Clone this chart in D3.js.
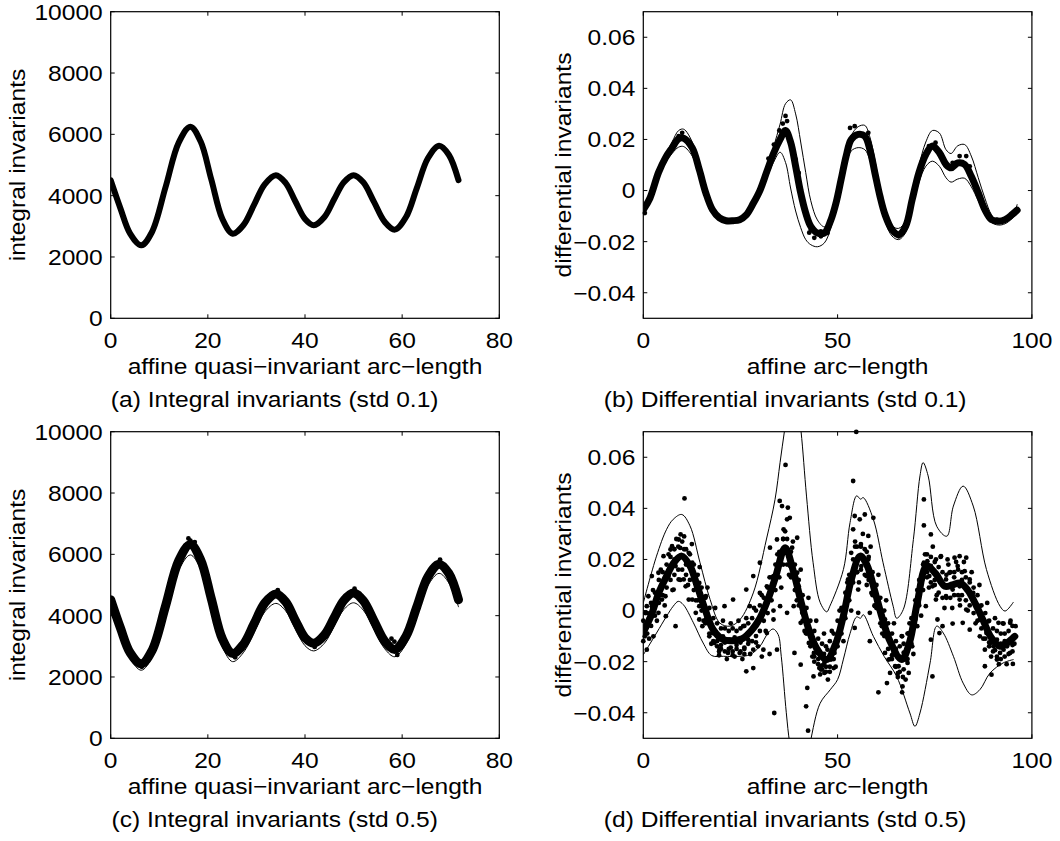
<!DOCTYPE html>
<html>
<head>
<meta charset="utf-8">
<script src="https://cdn.jsdelivr.net/npm/d3@7"></script>
<style>
body { margin: 0; background: #fff; }
svg text { font-family: "Liberation Sans", Arial, Helvetica, sans-serif; font-size: 22px; fill: #000; }
</style>
</head>
<body>
<svg id="fig" width="1060" height="841"></svg>
<script>
"use strict";

// ---- data ----

// integral invariants, std 0.1 (a) and std 0.5 (c)
var aX = [0, 2, 4, 6.3, 8.5, 11.3, 14, 16.4, 18.5, 20.7, 23, 25.1, 27.3, 29.5, 31.7, 34, 36, 38, 40, 41.8,
          44, 46, 48, 50, 52, 54.2, 56.4, 58.5, 60.8, 63, 65.3, 67.6, 69.6, 71.6];
var aMean = [4500, 3585, 2762, 2380, 2815, 4282, 5730, 6250, 5773, 4535, 3236, 2760, 3034, 3697, 4370, 4668, 4418, 3817, 3237, 3032,
             3305, 3881, 4438, 4668, 4435, 3797, 3147, 2892, 3302, 4238, 5218, 5628, 5335, 4504];
var cMean = [4520, 3600, 2790, 2430, 2860, 4320, 5790, 6320, 5830, 4560, 3240, 2770, 3060, 3730, 4410, 4710, 4460, 3850, 3280, 3100,
             3370, 3930, 4500, 4740, 4490, 3830, 3170, 2900, 3330, 4280, 5270, 5680, 5380, 4520];
var cLower = [4350, 3420, 2600, 2220, 2640, 4070, 5480, 5980, 5520, 4300, 2980, 2500, 2790, 3440, 4120, 4400, 4160, 3570, 3020, 2850,
              3100, 3650, 4200, 4420, 4180, 3550, 2920, 2660, 3080, 4020, 4980, 5380, 5070, 4290];
var cDots = [[16, 6520], [16.4, 6450], [17.3, 6400], [15.4, 6280], [57.8, 3250], [58.4, 3150], [50.2, 4880], [51.2, 4720],
             [34.4, 4830], [67.8, 5830], [25.6, 2640], [6.4, 2330], [1, 4200], [42, 2980], [59, 2720]];

// differential invariants, std 0.1 (b)
var bX = [0, 1.7, 3.9, 5.7, 7.4, 9.1, 10.4, 12.6, 14.4, 16.1, 17.8, 19.6, 21.3, 23.1, 24.8, 26.5, 28.3, 30, 31.8, 33.5,
          35.2, 36.6, 37.9, 39.2, 40.5, 41.8, 43.1, 44.8, 46.6, 48.3, 49.6, 50.9, 52.2, 53.5, 55.3, 57, 58.3, 59.6, 60.9, 62.2,
          64, 65.7, 67.5, 69.2, 70.9, 72.7, 74.4, 76.2, 77.9, 79.2, 80.9, 82.7, 84.4, 86.2, 87.9, 89.6, 91.4, 93.1, 94.9, 96.2];
var bMean = [-0.0075, -0.003, 0.007, 0.0128, 0.0167, 0.0203, 0.0205, 0.0167, 0.0082, -0.001, -0.0075, -0.0107, -0.0118, -0.0118, -0.0114, -0.0095, -0.005, 0, 0.0075, 0.0145,
             0.02, 0.0235, 0.019, 0.0095, -0.0009, -0.0088, -0.014, -0.0166, -0.0166, -0.0114, -0.0048, 0.0043, 0.0135, 0.02, 0.022, 0.0213, 0.0161, 0.0069, -0.0022, -0.0094,
             -0.0153, -0.0173, -0.014, -0.0035, 0.0069, 0.0141, 0.0174, 0.0148, 0.0102, 0.0089, 0.0108, 0.0102, 0.0056, -0.0009, -0.0075, -0.0114, -0.012, -0.0114, -0.0094, -0.0077];
var bUpper = [-0.006, -0.002, 0.008, 0.014, 0.019, 0.0235, 0.024, 0.019, 0.0095, 0, -0.0068, -0.0102, -0.0115, -0.0115, -0.011, -0.009, -0.004, 0.001, 0.009, 0.017,
              0.026, 0.034, 0.0355, 0.03, 0.019, 0.007, -0.004, -0.0115, -0.0142, -0.011, -0.004, 0.005, 0.0145, 0.0215, 0.025, 0.0255, 0.021, 0.012, 0.001, -0.008,
              -0.0138, -0.0148, -0.012, -0.002, 0.0095, 0.019, 0.0235, 0.0225, 0.016, 0.0145, 0.0175, 0.018, 0.0135, 0.005, -0.003, -0.0095, -0.0125, -0.0123, -0.0105, -0.0055];
var bLower = [-0.009, -0.0045, 0.0055, 0.011, 0.0145, 0.017, 0.0172, 0.0135, 0.0065, -0.002, -0.0085, -0.0115, -0.0125, -0.0125, -0.012, -0.0105, -0.0065, -0.001, 0.005, 0.011,
              0.015, 0.011, 0.001, -0.008, -0.0145, -0.0192, -0.0212, -0.022, -0.0205, -0.0145, -0.007, 0.002, 0.01, 0.0155, 0.0168, 0.016, 0.012, 0.004, -0.005, -0.012,
              -0.0178, -0.0192, -0.0165, -0.007, 0.003, 0.0095, 0.0115, 0.0095, 0.005, 0.0033, 0.0045, 0.0048, 0.0015, -0.004, -0.009, -0.0125, -0.0135, -0.013, -0.011, -0.009];
var bDots = [[36.6, 0.0292], [37, 0.0272], [35.9, 0.0262], [35, 0.0235], [33.6, 0.018], [32.2, 0.0125], [38.3, 0.0174], [39.2, 0.0122],
             [40, 0.0069], [40.5, 0.0004], [41.3, -0.0061], [42.2, -0.0114], [43.1, -0.0153], [44.4, -0.0166], [45.7, -0.016], [47.4, -0.0166],
             [53.2, 0.0245], [54.4, 0.0252], [57.9, 0.0226], [75.2, 0.0187], [73.5, 0.0174], [83.1, 0.0135], [81.4, 0.0135], [79.6, 0.0108],
             [84, 0.0095], [91, -0.0114], [96.2, -0.0075], [0.4, -0.0088], [10, 0.0226], [9.1, 0.0213], [10.9, 0.02], [65.7, -0.0179],
             [66.6, -0.0166], [45.7, -0.0179], [42.7, -0.0165], [44, -0.0185]];

// differential invariants, std 0.5 (d)
var dX = [0, 2, 4, 6, 8, 9.9, 12, 14, 16, 18, 20.6, 23, 25.5, 28, 30, 32, 34, 36.5, 38.5, 40.5, 42.5, 44.5, 47.2,
          49.5, 51.5, 53.5, 55.8, 57.5, 59.5, 61.5, 63.5, 66.5, 68.5, 70.5, 72.9, 75.2, 77.6, 79.5, 81.5, 83.5, 85.5, 87.5,
          89.5, 91.8, 93.8, 95.6];
var dMean = [-0.0085, -0.002, 0.007, 0.0135, 0.019, 0.0213, 0.0175, 0.009, 0, -0.0075, -0.0114, -0.0118, -0.011, -0.0075, -0.003, 0.004, 0.013, 0.0246, 0.016, 0.004, -0.007, -0.0145, -0.0192,
             -0.013, -0.002, 0.012, 0.0213, 0.018, 0.008, -0.003, -0.012, -0.0192, -0.0125, 0.003, 0.0174, 0.0145, 0.0095, 0.01, 0.0108, 0.008, 0.0025, -0.004,
             -0.0105, -0.014, -0.0125, -0.0101];
var dUpperX = [0, 3.4, 6, 7.7, 9.9, 12, 14.6, 17.2, 19.7, 22.3, 24.9, 28.3, 31.7, 33.9, 35.2, 36.3, 37.5, 38.5, 39.6, 40.6, 42, 43.7, 45.5, 47.2,
               48, 51.5, 53.2, 54.9, 55.9, 56.6, 59.2, 61.7, 64.3, 65.2, 66.9, 69.5, 71.2, 72, 73.3, 75.5, 78.1, 79.8, 82.3, 84.9, 88.3, 91.8, 93.1, 95.2];
var dUpper = [0.003, 0.0213, 0.0318, 0.0357, 0.0376, 0.0332, 0.0187, 0.0043, -0.0049, -0.0061, -0.0035, 0.0069, 0.028, 0.0435, 0.058, 0.07, 0.082, 0.086, 0.082, 0.07, 0.0448, 0.0187, 0.0032, -0.0005,
              0.0017, 0.0161, 0.0344, 0.0449, 0.0436, 0.0442, 0.0357, 0.0187, 0.0017, -0.003, 0.0004, 0.0278, 0.0527, 0.0579, 0.0527, 0.033, 0.0291, 0.0409, 0.0487, 0.0409, 0.0161, 0.0017, -0.0002, 0.0032];
var dLowerX = [0, 3.4, 6, 7.7, 9, 10.3, 12.9, 15.4, 17.6, 20.6, 24.9, 27.4, 30, 32.1, 33.4, 34.7, 35.5, 36.8, 37.7, 39.5, 41.2, 42.9, 45.5,
               48.1, 50, 51.5, 53.2, 54.9, 55.9, 56.6, 59.2, 62, 65.2, 68.6, 69.9, 71.2, 73.8, 75.5, 77.2, 79.8, 82.3, 84.5, 86.6, 89.2, 92.6, 95.2];
var dLower = [-0.0173, -0.0088, -0.0022, 0.0017, 0.0036, 0.0023, -0.0048, -0.0127, -0.0176, -0.0179, -0.0179, -0.0173, -0.014, -0.0088, -0.0072, -0.0094, -0.0179, -0.04, -0.052, -0.065, -0.065, -0.052, -0.0363,
              -0.031, -0.027, -0.019, -0.009, -0.0025, -0.003, -0.0016, -0.0101, -0.018, -0.0258, -0.0401, -0.0453, -0.0401, -0.0205, -0.0061, -0.0088, -0.0179, -0.0284, -0.033, -0.031, -0.0245, -0.0205, -0.0192];
// scattered outliers
var dDots = [[10.6, 0.0439], [36.6, 0.057], [33.7, -0.0401], [42.4, -0.047], [54.0, 0.0507], [54.8, 0.0699], [72.2, 0.0435], [72.2, 0.0333],
  [74, 0.0298], [74.4, -0.0258], [60.5, -0.032], [66.6, -0.032], [66.7, -0.0297], [62.7, -0.0284], [87.9, -0.0218], [89.6, -0.0251],
  [95.1, -0.0209], [8.3, -0.0061], [5.8, -0.0022], [41.9, -0.0375], [42.2, -0.0303], [43.8, -0.0258], [45.3, -0.0225], [38.9, -0.0166],
  [26.5, -0.0238], [28.3, -0.0225], [30.9, -0.0153], [34.4, -0.0153], [40.5, -0.0212], [58.3, -0.0009], [55.3, -0.0009], [54.4, -0.0068],
  [58.3, -0.012], [75.7, -0.0035], [76.2, -0.0088], [74, -0.0114], [77, -0.0061], [79.6, -0.0051], [82.2, -0.0048], [84, -0.0075],
  [91.4, -0.0048], [92.7, -0.0051], [94.4, -0.0048], [91, -0.0114], [86.6, -0.0035], [88.8, -0.0042], [73.1, 0.0193], [72.2, 0.0187],
  [75.3, 0.02], [76.6, 0.0213], [78.3, 0.02], [80.1, 0.0207], [81.4, 0.0213], [83.1, 0.0207], [80.9, 0.0174], [82.7, 0.0154],
  [78.8, 0.0148], [32.6, 0.0246], [34.4, 0.0278], [36.1, 0.0318], [37, 0.0357], [35.7, 0.0409], [37.2, 0.0403], [35.1, 0.0429],
  [37.7, 0.0363], [39.6, 0.0285], [38.3, 0.0246], [30, 0.0187], [28.3, 0.0135], [26.5, 0.0082], [23.1, 0.0043], [20.9, 0.0017],
  [16.1, 0.0056], [14.4, 0.0108], [12.6, 0.0187], [11.7, 0.0226], [9.1, 0.0278], [9.6, 0.0298], [7, 0.0239], [7.4, 0.0252],
  [5.2, 0.0213], [3.9, 0.0148], [2.2, 0.0135], [1.3, 0.0056], [0.9, 0.0017], [0.4, -0.0101], [0.9, -0.0153], [2.6, -0.0101],
  [4.8, 0.0043], [9.1, 0.0122], [10.9, 0.0095], [12.6, 0.0043], [14.4, 0.0017], [16.1, -0.0035], [17.8, -0.0088], [19.6, -0.0153],
  [21.8, -0.0166], [24.8, -0.0166], [28.3, -0.0153], [31.8, -0.0088], [33.5, -0.0035], [35.2, 0.0017], [37, -0.0009], [38.7, 0.0017],
  [40.5, -0.0048], [42.6, -0.0127], [44.8, -0.0166], [46.6, -0.0244], [48.3, -0.0192], [50, -0.0101], [51.8, -0.0009], [52.7, 0.0122],
  [53.5, 0.0226], [54, 0.0318], [54.4, 0.037], [55.7, 0.0357], [57, 0.0376], [59.2, 0.0363], [57.9, 0.0292], [56.6, 0.02],
  [57.4, 0.0135], [58.7, 0.0069], [59.6, 0.0017], [61.4, -0.0061], [63.1, -0.0101], [64.4, -0.0166], [65.7, -0.0218], [67.4, -0.0192],
  [69.2, -0.014], [70.5, -0.0061], [70.9, 0.003], [71.8, 0.0122], [73.6, 0.0135], [77.9, 0.0122], [79.6, 0.0082], [81.4, 0.0095],
  [84, 0.0122], [84.9, 0.0069], [86.6, 0.0017], [88.3, -0.0088], [90.1, -0.014], [91.8, -0.0166], [93.6, -0.014], [95.3, -0.0101],
  [95.8, -0.0061], [94.4, -0.0114], [92.7, -0.0153], [89.3, -0.0127], [75.3, 0.0043], [74.4, 0.0095], [77.9, 0.0056], [81.4, 0.0043],
  [83.1, 0.0004], [66.6, -0.0101], [64.8, -0.0218], [68.3, -0.0244], [63.1, -0.0192], [62.2, -0.0166], [63.5, -0.0244], [49.2, -0.0166],
  [47.4, -0.0153], [46.6, -0.0205], [45.7, -0.0231], [43.9, -0.0166], [41.8, -0.0088], [40.9, -0.0009], [40, 0.0095], [39.6, 0.0148],
  [37.8, 0.0174], [33.5, 0.0135], [31.8, 0.0095], [30, 0.0069], [27.4, 0.0017], [25.7, -0.0061], [23.9, -0.0114], [22.2, -0.0114],
  [20.5, -0.0101], [18.3, -0.0127], [17, -0.0101], [15.2, -0.0061], [14.4, -0.0035], [13.5, -0.0009], [11.7, 0.0043], [10.4, 0.0122],
  [8.3, 0.0174], [6.5, 0.0135], [4.8, 0.0095], [3.5, 0.0069], [2.2, 0.0017], [1.3, -0.0035], [3.9, -0.0009], [5.7, 0.0056],
  [7.8, 0.0082], [56.1, 0.0174], [57.9, 0.02], [55.3, 0.0082], [60.5, 0.0043], [62.2, -0.0035], [68.3, -0.0088], [70, -0.0035],
  [72.7, 0.0017], [86.6, -0.0101], [87.9, -0.0153], [91, -0.0192], [94.4, -0.0166],
  [19, -0.012], [20, -0.0135], [21, -0.0125], [22.5, -0.0145], [23.5, -0.0105], [24, -0.0135], [25, -0.0125], [26, -0.0145],
  [27, -0.0115], [29, -0.0125], [19.5, -0.0175], [23, -0.0175], [26, -0.017], [30.5, -0.018], [32.5, -0.017], [44, -0.02],
  [45, -0.019], [46, -0.0215], [47, -0.022], [48, -0.024], [49, -0.0225], [46.5, -0.017], [64, -0.0175], [65, -0.015],
  [66, -0.018], [67, -0.0165], [68, -0.0205], [65.5, -0.0245], [66.8, -0.026], [89, -0.0125], [90, -0.012], [91, -0.0135],
  [92, -0.013], [93, -0.012], [94, -0.0125], [95, -0.0135], [90.5, -0.0155], [9.5, 0.0245], [10.5, 0.024], [11, 0.018],
  [8, 0.02], [36, 0.028], [35, 0.022], [37.5, 0.022], [54.5, 0.027], [56, 0.025], [57.5, 0.023], [55, 0.015],
  [73, 0.015], [74, 0.0175], [75, 0.012], [80, 0.013], [82, 0.012], [83, 0.009]];
// the dense cloud around the noise-free curve
var dCloud = [
  [0, -0.004], [0, -0.012], [0.5, -0.001], [1, -0.001], [1, -0.009], [1.5, -0.011], [2, 0.003], [2, -0.006], [2.5, 0.008],
  [3, 0.007], [3, -0.002], [3.5, -0.004], [4, 0.012], [4, 0.003], [4.5, 0.016], [5, 0.015], [5, 0.006], [5.5, 0.002],
  [6, 0.018], [6, 0.009], [6.5, 0.022], [7, 0.021], [7, 0.012], [7.5, 0.008], [8, 0.024], [8, 0.014], [8.5, 0.028],
  [9, 0.025], [9, 0.016], [9.5, 0.012], [10, 0.027], [10, 0.016], [10.5, 0.029], [11, 0.024], [11, 0.014], [11.5, 0.01],
  [12, 0.022], [12, 0.012], [12.5, 0.026], [13, 0.018], [13, 0.008], [13.5, 0.004], [14, 0.014], [14, 0.004], [14.5, 0.017],
  [15, 0.009], [15, 0], [15.5, -0.004], [16, 0.005], [16, -0.005], [16.5, 0.009], [17, 0.001], [17, -0.009], [17.5, -0.013],
  [18, -0.003], [18, -0.012], [18.5, 0.001], [19, -0.005], [19, -0.014], [19.5, -0.016], [20, -0.007], [20, -0.015], [20.5, -0.004],
  [21, -0.007], [21, -0.016], [21.5, -0.019], [22, -0.008], [22, -0.015], [22.5, -0.005], [23, -0.007], [23, -0.016], [23.5, -0.018],
  [24, -0.008], [24, -0.015], [24.5, -0.004], [25, -0.007], [25, -0.016], [25.5, -0.019], [26, -0.006], [26, -0.015], [26.5, -0.003],
  [27, -0.005], [27, -0.013], [27.5, -0.017], [28, -0.003], [28, -0.012], [28.5, 0.001], [29, 0], [29, -0.01], [29.5, -0.014],
  [30, 0.002], [30, -0.008], [30.5, 0.006], [31, 0.005], [31, -0.004], [31.5, -0.008], [32, 0.009], [32, -0.001], [32.5, 0.013],
  [33, 0.013], [33, 0.004], [33.5, 0], [34, 0.018], [34, 0.008], [34.5, 0.022], [35, 0.023], [35, 0.013], [35.5, 0.009],
  [36, 0.028], [36, 0.018], [36.5, 0.031], [37, 0.028], [37, 0.018], [37.5, 0.014], [38, 0.023], [38, 0.013], [38.5, 0.027],
  [39, 0.018], [39, 0.008], [39.5, 0.004], [40, 0.012], [40, 0.002], [40.5, 0.016], [41, 0.006], [41, -0.004], [41.5, -0.008],
  [42, 0.001], [42, -0.009], [42.5, 0.005], [43, -0.004], [43, -0.014], [43.5, -0.018], [44, -0.008], [44, -0.018], [44.5, -0.004],
  [45, -0.011], [45, -0.021], [45.5, -0.025], [46, -0.013], [46, -0.023], [46.5, -0.009], [47, -0.014], [47, -0.024], [47.5, -0.027],
  [48, -0.012], [48, -0.022], [48.5, -0.008], [49, -0.009], [49, -0.019], [49.5, -0.022], [50, -0.004], [50, -0.014], [50.5, 0],
  [51, 0.001], [51, -0.009], [51.5, -0.012], [52, 0.007], [52, -0.003], [52.5, 0.011], [53, 0.014], [53, 0.004], [53.5, 0],
  [54, 0.02], [54, 0.011], [54.5, 0.025], [55, 0.025], [55, 0.015], [55.5, 0.011], [56, 0.026], [56, 0.016], [56.5, 0.03],
  [57, 0.024], [57, 0.014], [57.5, 0.01], [58, 0.021], [58, 0.012], [58.5, 0.025], [59, 0.015], [59, 0.006], [59.5, 0.002],
  [60, 0.01], [60, 0.001], [60.5, 0.014], [61, 0.005], [61, -0.005], [61.5, -0.009], [62, 0], [62, -0.01], [62.5, 0.004],
  [63, -0.005], [63, -0.015], [63.5, -0.019], [64, -0.009], [64, -0.019], [64.5, -0.005], [65, -0.012], [65, -0.022], [65.5, -0.026],
  [66, -0.014], [66, -0.024], [66.5, -0.01], [67, -0.013], [67, -0.023], [67.5, -0.027], [68, -0.009], [68, -0.019], [68.5, -0.005],
  [69, -0.003], [69, -0.013], [69.5, -0.017], [70, 0.004], [70, -0.006], [70.5, 0.008], [71, 0.012], [71, 0.002], [71.5, -0.002],
  [72, 0.018], [72, 0.008], [72.5, 0.022], [73, 0.022], [73, 0.013], [73.5, 0.009], [74, 0.021], [74, 0.011], [74.5, 0.025],
  [75, 0.019], [75, 0.01], [75.5, 0.006], [76, 0.017], [76, 0.007], [76.5, 0.021], [77, 0.015], [77, 0.005], [77.5, 0.001],
  [78, 0.014], [78, 0.005], [78.5, 0.018], [79, 0.015], [79, 0.005], [79.5, 0.001], [80, 0.015], [80, 0.006], [80.5, 0.019],
  [81, 0.016], [81, 0.006], [81.5, 0.002], [82, 0.015], [82, 0.006], [82.5, 0.019], [83, 0.013], [83, 0.004], [83.5, 0],
  [84, 0.011], [84, 0.002], [84.5, 0.015], [85, 0.009], [85, -0.001], [85.5, -0.005], [86, 0.006], [86, -0.004], [86.5, 0.01],
  [87, 0.002], [87, -0.007], [87.5, -0.011], [88, -0.001], [88, -0.011], [88.5, 0.003], [89, -0.004], [89, -0.014], [89.5, -0.018],
  [90, -0.007], [90, -0.016], [90.5, -0.003], [91, -0.008], [91, -0.018], [91.5, -0.021], [92, -0.009], [92, -0.019], [92.5, -0.005],
  [93, -0.009], [93, -0.018], [93.5, -0.021], [94, -0.008], [94, -0.017], [94.5, -0.004], [95, -0.006], [95, -0.016], [95.5, -0.013]];

// axes ticks and labels
var intXTicks = [0, 20, 40, 60, 80];
var intYTicks = [0, 2000, 4000, 6000, 8000, 10000];
var intYLabels = ["0", "2000", "4000", "6000", "8000", "10000"];
var diffXTicks = [0, 50, 100];
var diffYTicks = [-0.04, -0.02, 0, 0.02, 0.04, 0.06];
var diffYLabels = ["\u22120.04", "\u22120.02", "0", "0.02", "0.04", "0.06"];

// ---- drawing ----

var svg = d3.select("#fig");
var W = 388.6, H = 306.6;   // size of one axes box
var SX = 1.117;             // the original lettering is a bit wider than Arial

function label(x, y, str, anchor, rotated) {
    return svg.append("text")
        .attr("transform", "translate(" + x + "," + y + ")" + (rotated ? " rotate(-90)" : "") + " scale(" + SX + ",1)")
        .attr("text-anchor", anchor)
        .text(str);
}

function makeAxes(p) {
    var x = d3.scaleLinear().domain(p.xDomain).range([p.left, p.left + W]),
        y = d3.scaleLinear().domain(p.yDomain).range([p.top + H, p.top]),
        bottom = p.top + H;

    svg.append("clipPath").attr("id", p.id + "clip")
        .append("rect").attr("x", p.left).attr("y", p.top).attr("width", W).attr("height", H);

    var plot = svg.append("g").attr("clip-path", "url(#" + p.id + "clip)");
    var marks = svg.append("g");

    // inward ticks on all four sides
    var ticks = svg.append("g").attr("stroke", "#000").attr("stroke-width", 1);
    p.xTicks.forEach(function (t) {
        ticks.append("line").attr("x1", x(t)).attr("x2", x(t)).attr("y1", bottom).attr("y2", bottom - 4);
        ticks.append("line").attr("x1", x(t)).attr("x2", x(t)).attr("y1", p.top).attr("y2", p.top + 4);
        label(x(t), bottom + 29.4, String(t), "middle");
    });
    p.yTicks.forEach(function (t, i) {
        ticks.append("line").attr("x1", p.left).attr("x2", p.left + 4).attr("y1", y(t)).attr("y2", y(t));
        ticks.append("line").attr("x1", p.left + W).attr("x2", p.left + W - 4).attr("y1", y(t)).attr("y2", y(t));
        label(p.left - 8, y(t) + 7.9, p.yLabels[i], "end");
    });

    svg.append("rect").attr("x", p.left).attr("y", p.top).attr("width", W).attr("height", H)
        .attr("fill", "none").attr("stroke", "#000").attr("stroke-width", 1.2);

    label(p.left + W / 2, bottom + 55.2, p.xLabel, "middle");
    label(p.yLabelX, p.top + H / 2, p.yLabel, "middle", true);
    label(p.captionX, bottom + 89, p.caption, "middle");

    return { x: x, y: y, plot: plot, marks: marks };
}

function drawCurve(ax, xs, ys, width) {
    var line = d3.line()
        .x(function (d) { return ax.x(d[0]); })
        .y(function (d) { return ax.y(d[1]); })
        .curve(d3.curveCatmullRom.alpha(0.5));
    ax.plot.append("path")
        .attr("d", line(xs.map(function (v, i) { return [v, ys[i]]; })))
        .attr("fill", "none")
        .attr("stroke", "#000")
        .attr("stroke-width", width)
        .attr("stroke-linejoin", "round")
        .attr("stroke-linecap", "round");
}

function drawDots(ax, dots) {
    ax.marks.append("g").selectAll("circle").data(dots).enter().append("circle")
        .attr("cx", function (d) { return ax.x(d[0]); })
        .attr("cy", function (d) { return ax.y(d[1]); })
        .attr("r", 2.4)
        .attr("fill", "#000");
}

var intSpec = { xDomain: [0, 80], yDomain: [0, 10000], xTicks: intXTicks, yTicks: intYTicks, yLabels: intYLabels,
                xLabel: "affine quasi\u2212invariant arc\u2212length", yLabel: "integral invariants",
                left: 110.7, yLabelX: 25, captionX: 274.7 };
var diffSpec = { xDomain: [0, 100], yDomain: [-0.05, 0.07], xTicks: diffXTicks, yTicks: diffYTicks, yLabels: diffYLabels,
                 xLabel: "affine arc\u2212length", yLabel: "differential invariants",
                 left: 643.3, yLabelX: 570.5, captionX: 785.2 };

function spec(base, id, top, caption) {
    var s = Object.assign({}, base);
    s.id = id; s.top = top; s.caption = caption;
    return s;
}

// (a)
var axA = makeAxes(spec(intSpec, "a", 11.7, "(a) Integral invariants (std 0.1)"));
drawCurve(axA, aX, aMean, 6);

// (b)
var axB = makeAxes(spec(diffSpec, "b", 11.7, "(b) Differential invariants (std 0.1)"));
drawCurve(axB, bX, bUpper, 1);
drawCurve(axB, bX, bLower, 1);
drawCurve(axB, bX, bMean, 7);
drawDots(axB, bDots);

// (c)
var axC = makeAxes(spec(intSpec, "c", 431.7, "(c) Integral invariants (std 0.5)"));
drawCurve(axC, aX, cLower, 1);
drawCurve(axC, aX, cMean, 9);
drawDots(axC, cDots);

// (d)
var axD = makeAxes(spec(diffSpec, "d", 431.7, "(d) Differential invariants (std 0.5)"));
drawCurve(axD, dUpperX, dUpper, 1);
drawCurve(axD, dLowerX, dLower, 1);
drawCurve(axD, dX, dMean, 7);
drawDots(axD, dDots);
drawDots(axD, dCloud);
</script>
</body>
</html>
